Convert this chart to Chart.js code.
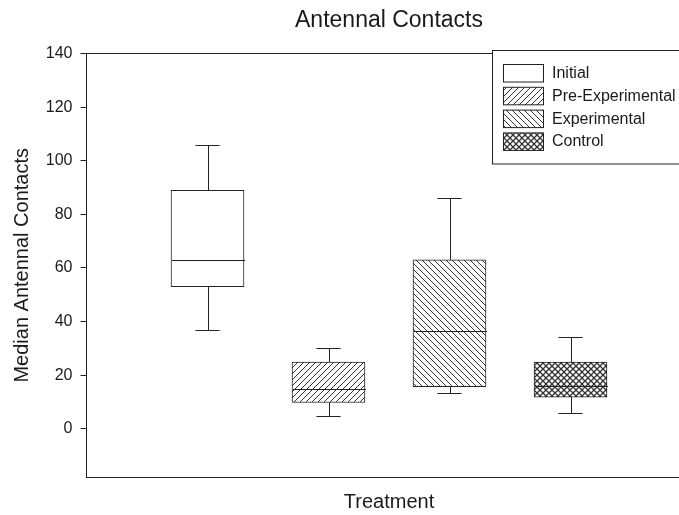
<!DOCTYPE html>
<html>
<head>
<meta charset="utf-8">
<style>
  html, body { margin: 0; padding: 0; background: #fff; overflow: hidden; }
  canvas { display: block; }
</style>
</head>
<body>
<canvas id="myChart" width="700" height="515"></canvas>

<script src="https://cdn.jsdelivr.net/npm/chart.js"></script>
<script>
  // box plot values
  var categories = ['Initial', 'Pre-Experimental', 'Experimental', 'Control'];
  var xPos = [1, 2, 3, 4];
  var whiskerLow = [37, 4.6, 13.4, 5.7];
  var q1 = [53, 9.8, 15.7, 11.8];
  var median = [63, 14.8, 36.3, 15.8];
  var q3 = [89, 24.9, 63, 24.9];
  var whiskerHigh = [106, 30.2, 86, 34.1];
  var yTicks = [0, 20, 40, 60, 80, 100, 120, 140];

  var INK = '#222';
  var FONT = "'Liberation Sans', Arial, sans-serif";
  var BOX_W = 73;

  // hatch fills
  function makePattern(kind) {
    var s = 6;
    var c = document.createElement('canvas');
    c.width = s; c.height = s;
    var g = c.getContext('2d');
    g.fillStyle = '#fff';
    g.fillRect(0, 0, s, s);
    if (kind === 'none') return g.createPattern(c, 'repeat');
    g.strokeStyle = '#333';
    g.lineWidth = 1;
    function fwd() {
      g.beginPath();
      g.moveTo(0, s); g.lineTo(s, 0);
      g.moveTo(-1, 1); g.lineTo(1, -1);
      g.moveTo(s - 1, s + 1); g.lineTo(s + 1, s - 1);
      g.stroke();
    }
    function back() {
      g.beginPath();
      g.moveTo(0, 0); g.lineTo(s, s);
      g.moveTo(-1, s - 1); g.lineTo(1, s + 1);
      g.moveTo(s - 1, -1); g.lineTo(s + 1, 1);
      g.stroke();
    }
    if (kind === 'fwd') fwd();
    if (kind === 'back') back();
    if (kind === 'cross') { g.lineWidth = 1.3; fwd(); back(); }
    return g.createPattern(c, 'repeat');
  }

  var fills = [makePattern('none'), makePattern('fwd'), makePattern('back'), makePattern('cross')];

  var boxData = xPos.map(function (x, i) { return { x: x, y: [q1[i], q3[i]] }; });

  // whiskers, caps and medians
  var whiskerPlugin = {
    id: 'whiskers',
    afterDatasetsDraw(chart) {
      var ctx = chart.ctx;
      var xs = chart.scales.x, ys = chart.scales.y;
      ctx.save();
      ctx.strokeStyle = INK;
      ctx.lineWidth = 1;
      for (var i = 0; i < xPos.length; i++) {
        var cx = Math.round(xs.getPixelForValue(xPos[i])) + 0.5;
        var capL = xs.getPixelForValue(xPos[i] - 0.1);
        var capR = xs.getPixelForValue(xPos[i] + 0.1);
        var yLo = Math.round(ys.getPixelForValue(whiskerLow[i])) + 0.5;
        var yQ1 = ys.getPixelForValue(q1[i]);
        var yMed = Math.round(ys.getPixelForValue(median[i])) + 0.5;
        var yQ3 = ys.getPixelForValue(q3[i]);
        var yHi = Math.round(ys.getPixelForValue(whiskerHigh[i])) + 0.5;
        ctx.beginPath();
        ctx.moveTo(cx, yQ3); ctx.lineTo(cx, yHi);
        ctx.moveTo(capL, yHi); ctx.lineTo(capR, yHi);
        ctx.moveTo(cx, yQ1); ctx.lineTo(cx, yLo);
        ctx.moveTo(capL, yLo); ctx.lineTo(capR, yLo);
        ctx.moveTo(cx - BOX_W / 2, yMed); ctx.lineTo(cx + BOX_W / 2, yMed);
        ctx.stroke();
      }
      ctx.restore();
    }
  };

  // framed legend with hatch swatches
  var legendPlugin = {
    id: 'hatchLegend',
    afterDraw(chart) {
      var ctx = chart.ctx;
      ctx.save();
      ctx.fillStyle = '#fff';
      ctx.strokeStyle = INK;
      ctx.lineWidth = 1;
      ctx.fillRect(492.5, 50.5, 220, 113.5);
      ctx.strokeRect(492.5, 50.5, 220, 113.5);
      ctx.font = '16px ' + FONT;
      ctx.textBaseline = 'middle';
      for (var i = 0; i < categories.length; i++) {
        var top = 64.5 + i * 22.8;
        ctx.fillStyle = fills[i];
        ctx.fillRect(503.5, top, 40, 17.5);
        ctx.strokeRect(503.5, top, 40, 17.5);
        ctx.fillStyle = '#1a1a1a';
        ctx.fillText(categories[i], 552, top + 9);
      }
      ctx.restore();
    }
  };

  const ctx = document.getElementById('myChart');

  new Chart(ctx, {
    type: 'bar',
    data: {
      datasets: [{
        label: 'Median Antennal Contacts',
        data: boxData,
        backgroundColor: fills,
        borderColor: INK,
        borderWidth: 1,
        borderSkipped: false,
        barThickness: BOX_W
      }]
    },
    plugins: [whiskerPlugin, legendPlugin],
    options: {
      responsive: false,
      animation: false,
      events: [],
      layout: { padding: { left: 0, right: 8.5, top: 0, bottom: 0 } },
      plugins: {
        legend: { display: false },
        tooltip: { enabled: false },
        title: {
          display: true,
          fullSize: false,
          text: 'Antennal Contacts',
          color: '#1a1a1a',
          font: { family: FONT, size: 23, weight: 'normal' },
          padding: { top: 7, bottom: 19 }
        }
      },
      scales: {
        x: {
          type: 'linear',
          position: 'bottom',
          offset: false,
          min: 0,
          max: 5,
          grid: { display: false, offset: false },
          border: { display: true, color: INK, width: 1 },
          ticks: { display: false },
          title: {
            display: true,
            text: 'Treatment',
            color: '#1a1a1a',
            font: { family: FONT, size: 20 },
            padding: { top: 0, bottom: 1 }
          },
          afterFit: function (axis) { axis.height = 38; }
        },
        x2: {
          type: 'linear',
          position: 'top',
          offset: false,
          min: 0,
          max: 5,
          grid: { display: false, offset: false },
          border: { display: true, color: INK, width: 1 },
          ticks: { display: false },
          afterFit: function (axis) { axis.height = 0; }
        },
        y: {
          min: -18,
          max: 140,
          grid: { display: true, drawOnChartArea: false, drawTicks: true, tickLength: 6, color: INK },
          border: { display: true, color: INK, width: 1 },
          ticks: {
            color: '#1a1a1a',
            padding: 8,
            font: { family: FONT, size: 16 }
          },
          afterBuildTicks: function (axis) {
            axis.ticks = yTicks.map(function (v) { return { value: v }; });
          },
          title: {
            display: true,
            text: 'Median Antennal Contacts',
            color: '#1a1a1a',
            font: { family: FONT, size: 20 },
            padding: { top: 10, bottom: 0 }
          },
          afterFit: function (axis) { axis.width = 86.5; }
        }
      }
    }
  });
</script>
</body>
</html>
